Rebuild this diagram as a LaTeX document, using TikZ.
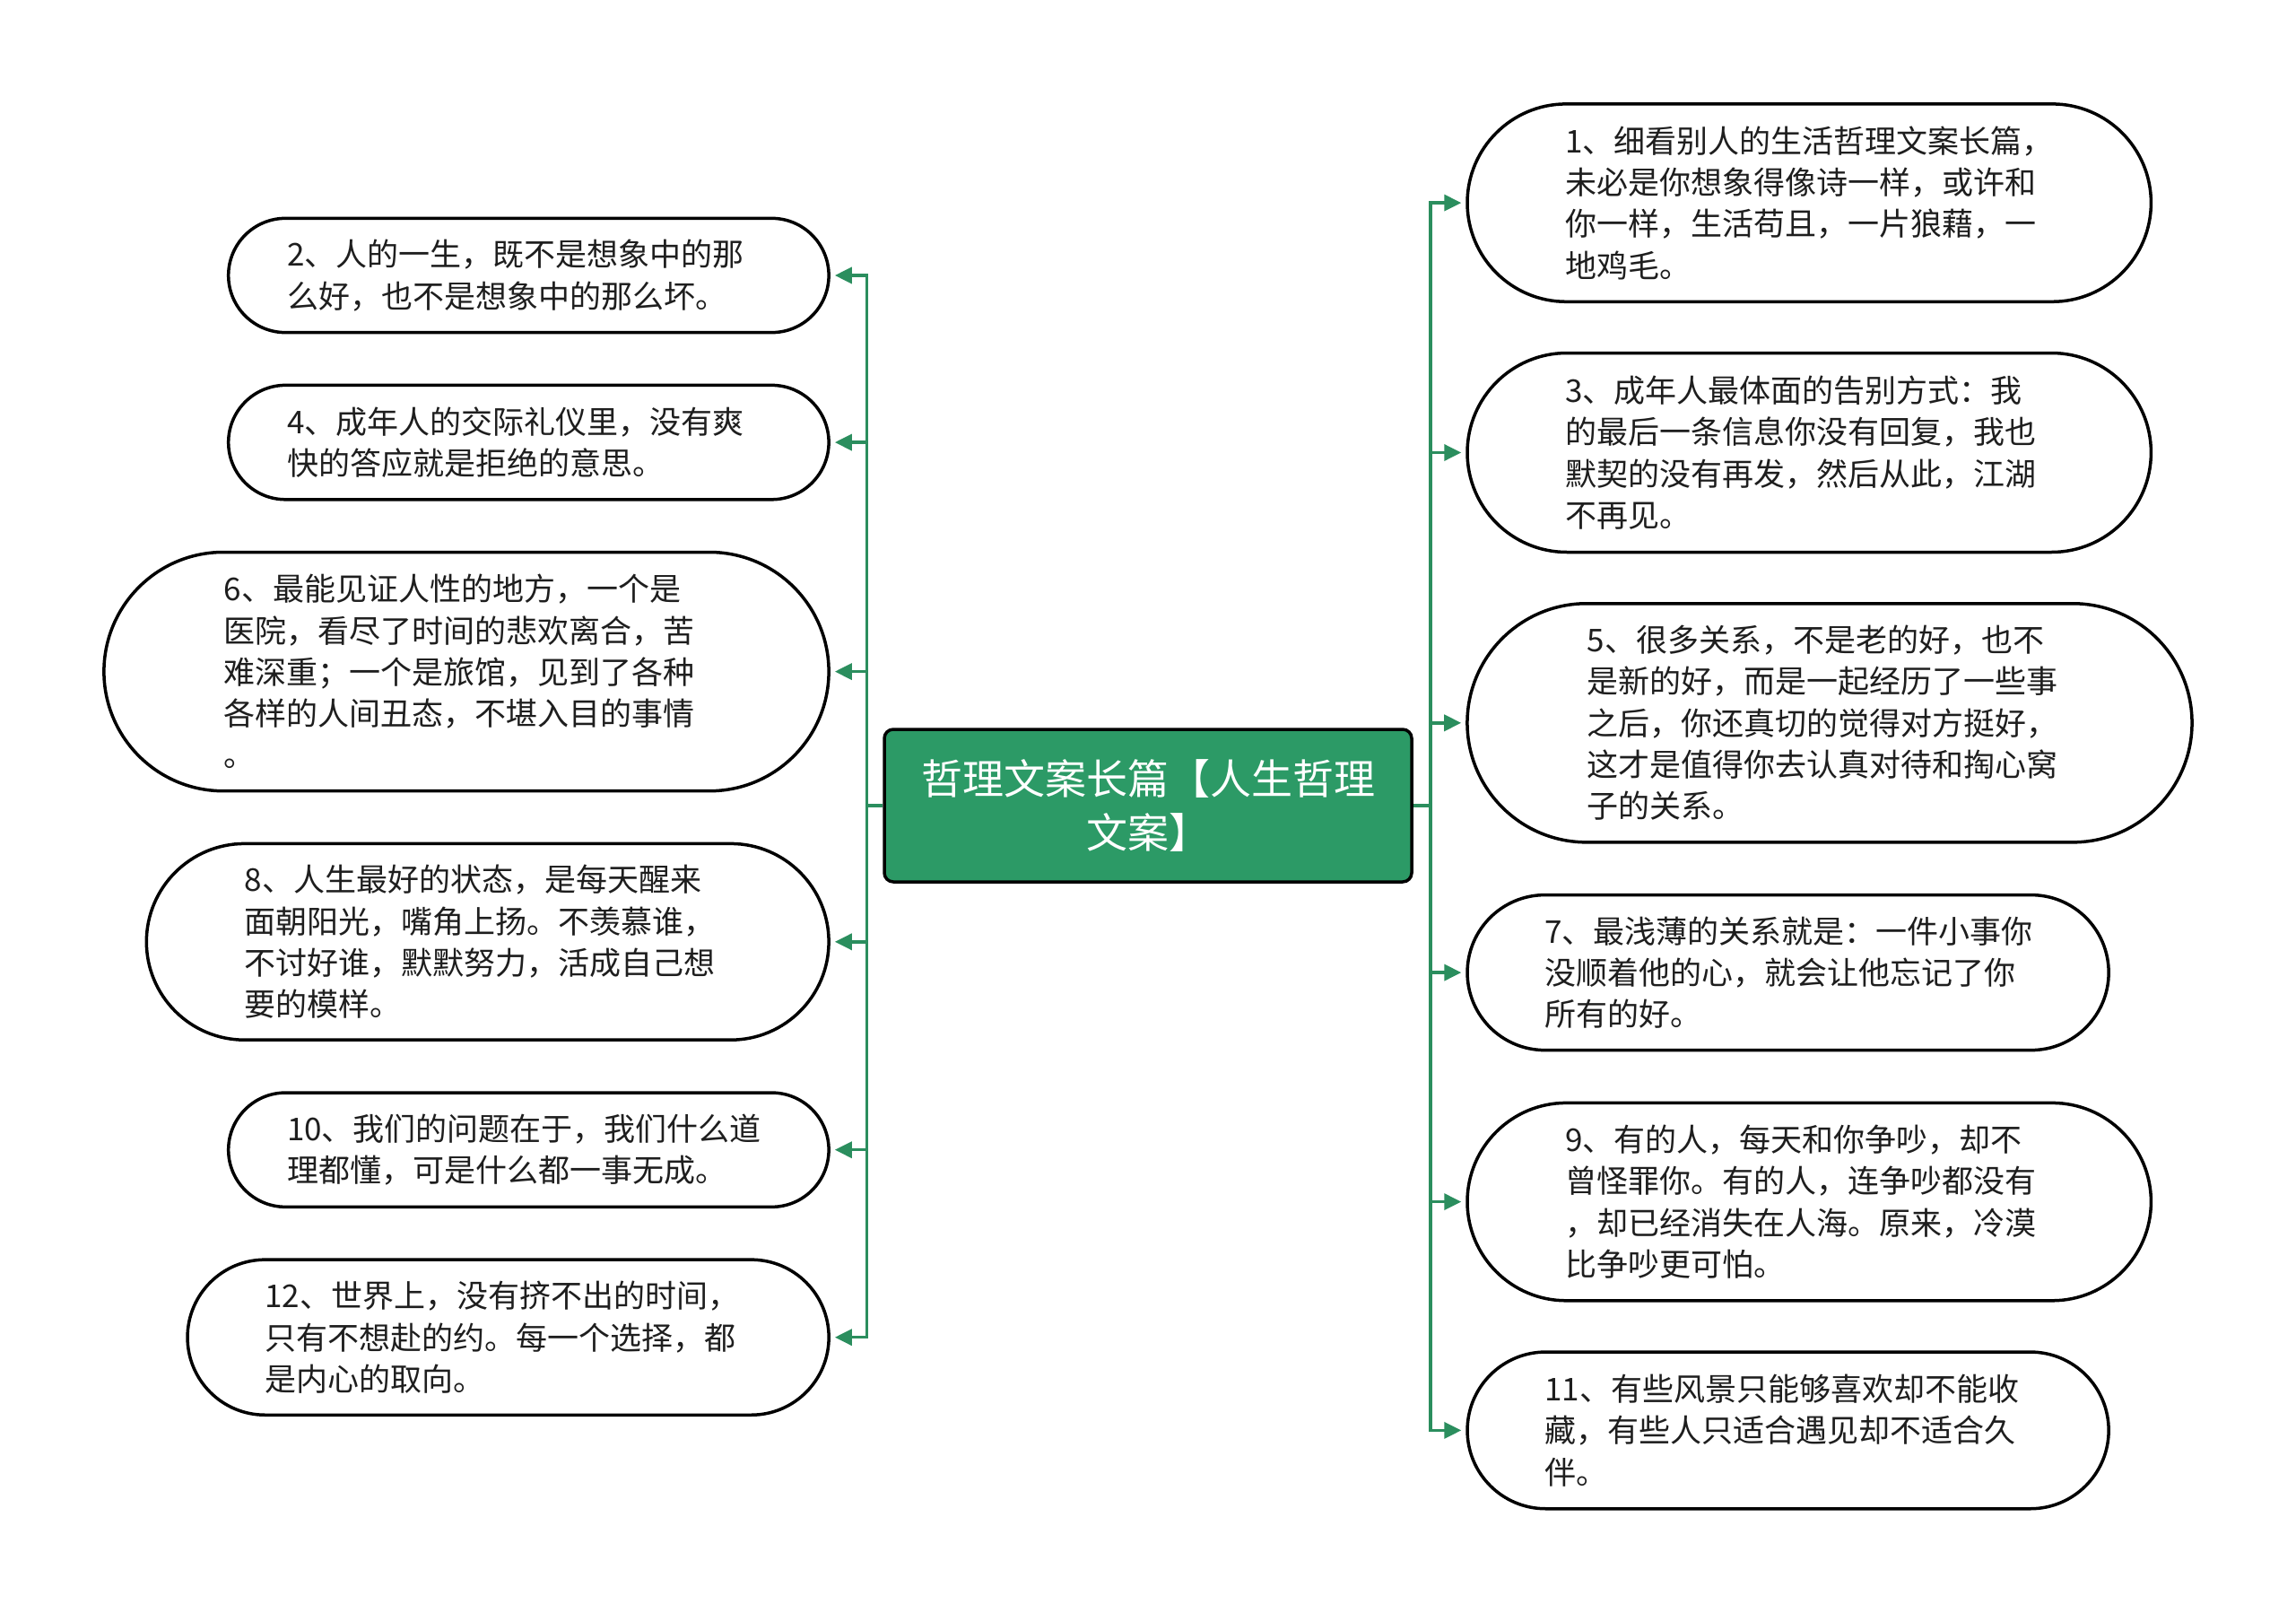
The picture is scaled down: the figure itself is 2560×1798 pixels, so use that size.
\documentclass[tikz,border=0pt]{standalone}
\usepackage{fontspec}
\setmainfont{Noto Sans CJK SC}
\usetikzlibrary{arrows.meta}
\definecolor{gfill}{HTML}{2C9A66}
\definecolor{gline}{HTML}{2B8E5E}
\definecolor{txt}{HTML}{1E1E1E}
\hfuzz=20pt
\begin{document}
\begin{tikzpicture}[x=1pt,y=-1pt,
  leaf/.style n args={3}{draw=black, line width=3.5pt, fill=white, rounded corners=#2/2,
    minimum width=#1, minimum height=#2, text width=#3, align=left, text=txt, inner sep=0pt,
    font=\fontsize{35}{46.3}\selectfont},
  root/.style={draw=black, line width=3.5pt, fill=gfill, rounded corners=10pt,
    minimum width=588pt, minimum height=170pt, align=center, text=white, inner sep=0pt,
    font=\fontsize{46}{60}\selectfont},
  conn/.style={draw=gline, line width=3.5pt},
  arr/.style={conn, -{Triangle[length=19pt,width=18pt]}, shorten >=5pt}
]
\useasboundingbox[fill=white] (0,0) rectangle (2560,1798);

\node[root] (c) at (1280,898) {哲理文案长篇【人生哲理\\文案】};

% left nodes
\node[leaf={669.4pt}{127.3pt}{538.8pt}] (l2) at (589.4,307) {2、人的一生，既不是想象中的那\\么好，也不是想象中的那么坏。};
\node[leaf={669.4pt}{127.4pt}{538.8pt}] (l4) at (589.4,493.1) {4、成年人的交际礼仪里，没有爽\\快的答应就是拒绝的意思。};
\node[leaf={808.2pt}{266.2pt}{540.4pt}] (l6) at (520,748.6) {6、最能见证人性的地方，一个是\\医院，看尽了时间的悲欢离合，苦\\难深重；一个是旅馆，见到了各种\\各样的人间丑态，不堪入目的事情\\。};
\node[leaf={760.8pt}{218.8pt}{542pt}] (l8) at (543.7,1049.8) {8、人生最好的状态，是每天醒来\\面朝阳光，嘴角上扬。不羡慕谁，\\不讨好谁，默默努力，活成自己想\\要的模样。};
\node[leaf={669.4pt}{127.3pt}{538.8pt}] (l10) at (589.4,1281.7) {10、我们的问题在于，我们什么道\\理都懂，可是什么都一事无成。};
\node[leaf={715.1pt}{173.1pt}{542.2pt}] (l12) at (566.6,1490.7) {12、世界上，没有挤不出的时间，\\只有不想赴的约。每一个选择，都\\是内心的取向。};

% right nodes
\node[leaf={762.4pt}{220.4pt}{543.6pt}] (r1) at (2017.2,226.1) {1、细看别人的生活哲理文案长篇，\\未必是你想象得像诗一样，或许和\\你一样，生活苟且，一片狼藉，一\\地鸡毛。};
\node[leaf={762.4pt}{222pt}{543.6pt}] (r3) at (2017.2,504.5) {3、成年人最体面的告别方式：我\\的最后一条信息你没有回复，我也\\默契的没有再发，然后从此，江湖\\不再见。};
\node[leaf={808.1pt}{266.1pt}{540.4pt}] (r5) at (2040,805.8) {5、很多关系，不是老的好，也不\\是新的好，而是一起经历了一些事\\之后，你还真切的觉得对方挺好，\\这才是值得你去认真对待和掏心窝\\子的关系。};
\node[leaf={715.1pt}{173pt}{542.2pt}] (r7) at (1993.6,1084.1) {7、最浅薄的关系就是：一件小事你\\没顺着他的心，就会让他忘记了你\\所有的好。};
\node[leaf={762.4pt}{220.4pt}{543.6pt}] (r9) at (2017.2,1339.6) {9、有的人，每天和你争吵，却不\\曾怪罪你。有的人，连争吵都没有\\，却已经消失在人海。原来，冷漠\\比争吵更可怕。};
\node[leaf={715.1pt}{174.7pt}{542.2pt}] (r11) at (1993.6,1594.4) {11、有些风景只能够喜欢却不能收\\藏，有些人只适合遇见却不适合久\\伴。};

\coordinate (tl) at (966.6,898);
\coordinate (tr) at (1595.1,898);
\draw[conn] (c.west) -- (tl);
\draw[conn] (c.east) -- (tr);
\foreach \n in {l2,l4,l6,l8,l10,l12}
  \draw[arr] (tl) |- (\n.east);
\foreach \n in {r1,r3,r5,r7,r9,r11}
  \draw[arr] (tr) |- (\n.west);
\end{tikzpicture}
\end{document}
